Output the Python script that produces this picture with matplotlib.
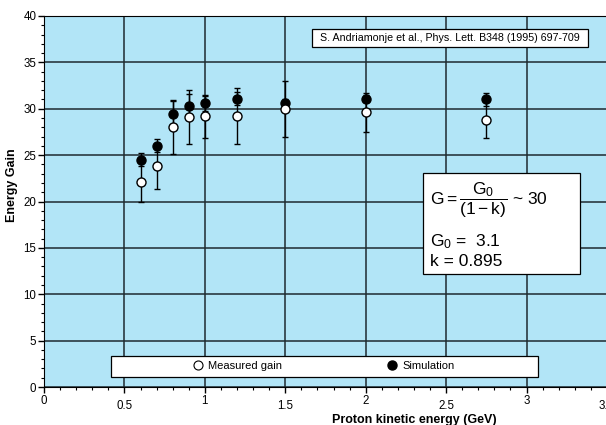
import matplotlib
matplotlib.use('Agg')
import matplotlib.pyplot as plt
from matplotlib.patches import Rectangle
from matplotlib.lines import Line2D
from matplotlib.ticker import MultipleLocator, FuncFormatter

plt.rcParams['font.family'] = ['Liberation Sans', 'DejaVu Sans']
plt.rcParams['mathtext.fontset'] = 'custom'
plt.rcParams['mathtext.rm'] = 'Liberation Sans'
plt.rcParams['mathtext.it'] = 'Liberation Sans'
plt.rcParams['mathtext.bf'] = 'Liberation Sans:bold'

# data
energy = [0.6, 0.7, 0.8, 0.9, 1.0, 1.2, 1.5, 2.0, 2.75]
measured = [22.1, 23.8, 28.0, 29.1, 29.2, 29.2, 30.0, 29.6, 28.8]
measured_err = [2.2, 2.4, 2.9, 2.9, 2.3, 3.0, 3.0, 2.1, 2.0]
simulation = [24.5, 26.0, 29.4, 30.3, 30.6, 31.1, 30.6, 31.1, 31.0]
simulation_err = [0.7, 0.7, 1.4, 1.3, 0.8, 0.7, 0.4, 0.4, 0.7]

bg = '#b2e5f7'
gridc = '#1e2a30'

fig = plt.figure(figsize=(6.06, 4.25), dpi=100)
ax = fig.add_axes([44 / 606, 1 - 387 / 425, 563 / 606, 371 / 425])
ax.set_facecolor(bg)
ax.set_xlim(0, 3.5)
ax.set_ylim(0, 40)

ax.xaxis.set_major_locator(MultipleLocator(0.5))
ax.xaxis.set_minor_locator(MultipleLocator(0.1))
ax.yaxis.set_major_locator(MultipleLocator(5))
ax.yaxis.set_minor_locator(MultipleLocator(1))
ax.xaxis.set_major_formatter(FuncFormatter(lambda v, p: '%g' % v))
ax.tick_params(which='major', length=4, width=1, labelsize=8.3, direction='out')
ax.tick_params(which='minor', length=2.2, width=0.8, direction='out')
ax.tick_params(axis='y', pad=1.5)
ax.grid(True, which='major', color=gridc, lw=1.1, zorder=1)
ax.set_axisbelow(True)
for s in ax.spines.values():
    s.set_color('black')

fig.canvas.draw()
for t in ax.xaxis.get_major_ticks():
    v = t.get_loc()
    t.set_pad(1.5 if abs(v - round(v)) < 1e-6 else 5.5)

ax.errorbar(energy, simulation, yerr=simulation_err, fmt='o', color='black',
            ms=6.5, mfc='black', mec='black', ecolor='black', elinewidth=1,
            capsize=2, capthick=1, zorder=4)
ax.errorbar(energy, measured, yerr=measured_err, fmt='o', color='black',
            ms=6.5, mfc='white', mec='black', mew=1, ecolor='black', elinewidth=1,
            capsize=2, capthick=1, zorder=5)

ax.set_xlabel('Proton kinetic energy (GeV)', fontsize=9, fontweight='bold')
ax.xaxis.set_label_coords(0.658, -0.072)
ax.set_ylabel('Energy Gain', fontsize=9, fontweight='bold')
ax.yaxis.set_label_coords(-0.046, 0.545)

# reference box
ax.add_patch(Rectangle(((311.7 - 44) / 563, (387 - 46.7) / 371),
                       (588.3 - 311.7) / 563, 17.7 / 371, transform=ax.transAxes,
                       facecolor='white', edgecolor='black', lw=0.9, zorder=3))
ax.text((450 - 44) / 563, (387 - 38) / 371,
        'S. Andriamonje et al., Phys. Lett. B348 (1995) 697-709',
        transform=ax.transAxes, ha='center', va='center', fontsize=7.7, zorder=6)

# formula box
ax.add_patch(Rectangle(((423.3 - 44) / 563, (387 - 274.3) / 371),
                       (580.3 - 423.3) / 563, 101 / 371, transform=ax.transAxes,
                       facecolor='white', edgecolor='black', lw=0.9, zorder=3))
ax.text((430 - 44) / 563, (387 - 200) / 371, r'$G = \dfrac{G_0}{(1 - k)}$ ~ 30',
        transform=ax.transAxes, ha='left', va='center', fontsize=12.5, zorder=6)
ax.text((430 - 44) / 563, (387 - 242) / 371, r'$G_0$ =  3.1',
        transform=ax.transAxes, ha='left', va='center', fontsize=12.5, zorder=6)
ax.text((430 - 44) / 563, (387 - 262) / 371, 'k = 0.895',
        transform=ax.transAxes, ha='left', va='center', fontsize=12.5, zorder=6)

# legend box
ax.add_patch(Rectangle(((110.7 - 44) / 563, (387 - 376.7) / 371),
                       (538 - 110.7) / 563, 21 / 371, transform=ax.transAxes,
                       facecolor='white', edgecolor='black', lw=0.9, zorder=3))
handles = [Line2D([], [], ls='none', marker='o', ms=6.5, mfc='white', mec='black', mew=0.8),
           Line2D([], [], ls='none', marker='o', ms=6.5, mfc='black', mec='black')]
leg = ax.legend(handles, ['Measured gain', 'Simulation'], ncol=2, frameon=False,
                loc='center', bbox_to_anchor=((324 - 44) / 563, (387 - 366) / 371),
                fontsize=8, handlelength=0.8, handletextpad=0.5, columnspacing=9.5,
                borderpad=0, borderaxespad=0)
leg.set_zorder(6)

fig.savefig('out.png', dpi=100)
